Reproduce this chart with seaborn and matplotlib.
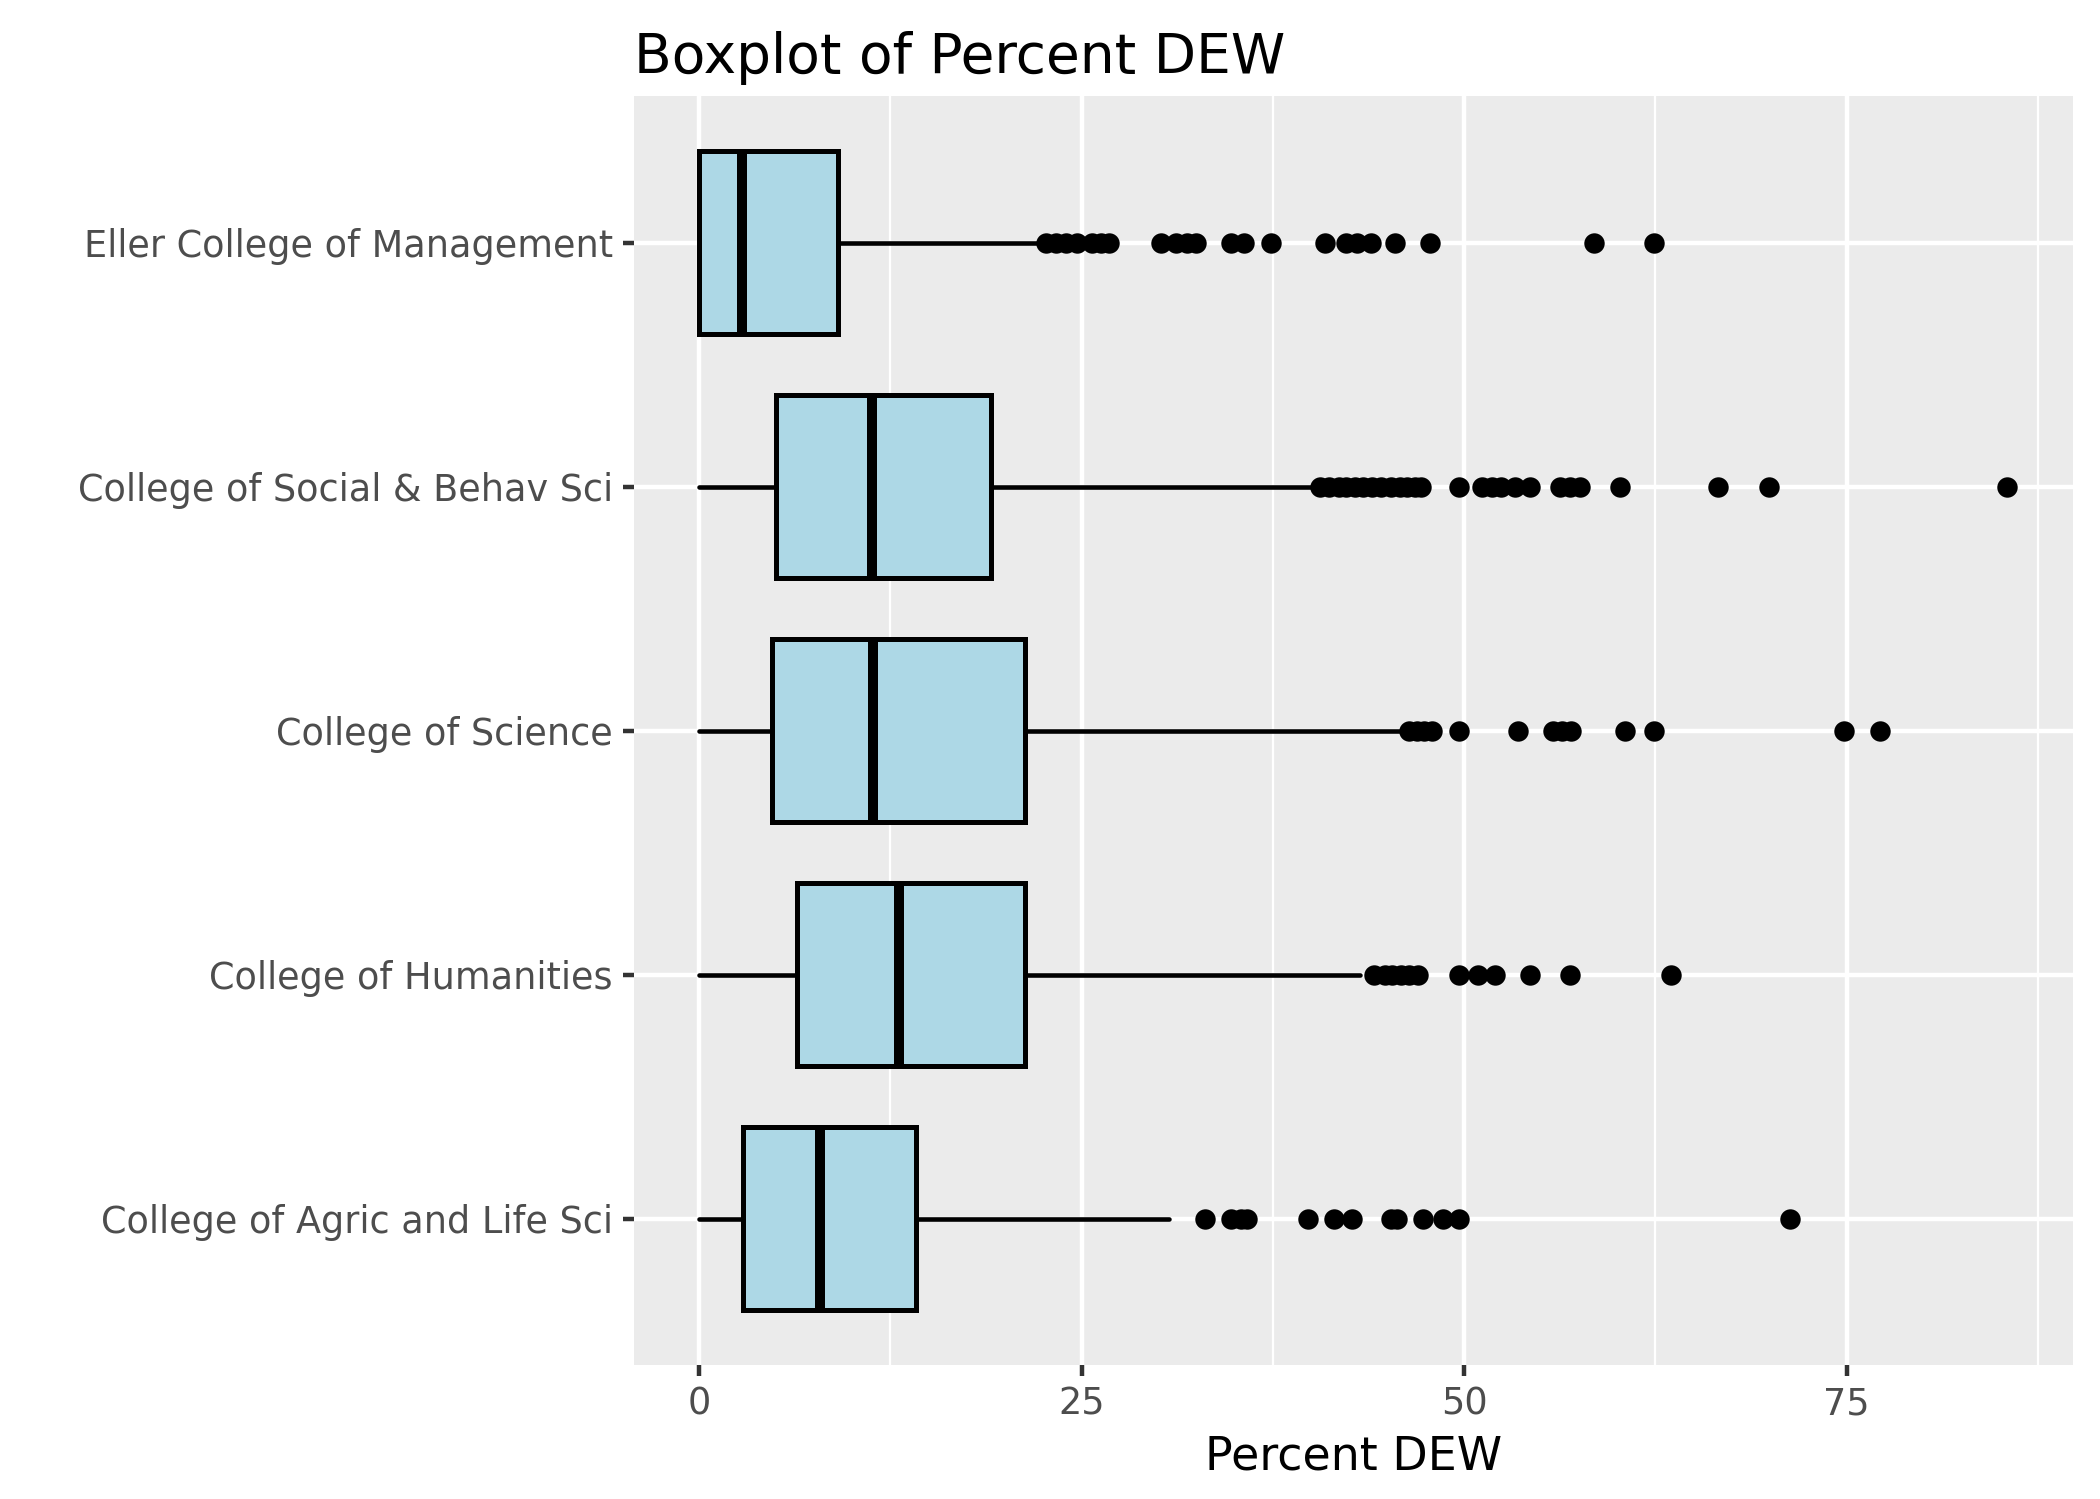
import matplotlib
matplotlib.use("Agg")
import matplotlib.pyplot as plt
import matplotlib.ticker as mticker
import numpy as np
import pandas as pd
import seaborn as sns

# ========= DATA =========
colleges = [
    "College of Agric and Life Sci",
    "College of Humanities",
    "College of Science",
    "College of Social & Behav Sci",
    "Eller College of Management",
]
q1 = [2.9, 6.4, 4.8, 5.05, 0.0]
median = [7.9, 13.1, 11.4, 11.3, 2.8]
q3 = [14.2, 21.3, 21.3, 19.1, 9.06]
whisker_low = [0.0, 0.0, 0.0, 0.0, 0.0]
whisker_high = [30.7, 43.2, 46.2, 40.3, 22.1]

outliers_agric = [33.1, 34.8, 35.4, 35.8, 39.8, 41.5, 42.7, 45.2, 45.6, 47.3, 48.6, 49.7, 71.3]
outliers_hum = [44.1, 44.8, 45.3, 45.9, 46.4, 47.0, 49.7, 50.9, 52.0, 54.3, 56.9, 63.5]
outliers_sci = [46.4, 46.9, 47.4, 47.9, 49.7, 53.5, 55.8, 56.4, 57.0, 60.5, 62.4, 74.8, 77.2]
outliers_soc = [40.6, 41.2, 41.8, 42.3, 42.9, 43.4, 44.0, 44.6, 45.2, 45.8, 46.3, 46.8, 47.2,
                49.7, 51.2, 51.8, 52.4, 53.3, 54.3, 56.3, 56.9, 57.6, 60.2, 66.6, 69.9, 85.5]
outliers_eller = [22.7, 23.3, 24.0, 24.7, 25.7, 26.3, 26.8, 30.2, 31.2, 31.9, 32.5, 34.8, 35.6,
                  37.4, 40.9, 42.3, 43.0, 43.9, 45.5, 47.8, 58.5, 62.4]
outliers = [outliers_agric, outliers_hum, outliers_sci, outliers_soc, outliers_eller]

# ========= TEMA estilo ggplot =========
sns.set_theme(style="darkgrid", rc={
    "axes.facecolor": "#EBEBEB",
    "grid.color": "white",
    "axes.edgecolor": "#EBEBEB",
})
plt.rcParams["font.family"] = ["DejaVu Sans"]

positions = np.arange(1, len(colleges) + 1)
stats = []
for i, c in enumerate(colleges):
    stats.append(dict(label=c, q1=q1[i], med=median[i], q3=q3[i],
                      whislo=whisker_low[i], whishi=whisker_high[i], fliers=[]))

df_out = pd.concat([
    pd.DataFrame({"college": c, "pos": positions[i], "value": outliers[i]})
    for i, c in enumerate(colleges)
], ignore_index=True)

fig = plt.figure(figsize=(7, 1499 / 300), dpi=300)
ax = fig.add_axes([0.3017, 0.0893, 0.987 - 0.3017, 0.9357 - 0.0893])
ax.set_axisbelow(True)

ax.bxp(stats, positions=positions, orientation="horizontal", widths=0.75,
       patch_artist=True, showcaps=False, showfliers=False,
       boxprops=dict(facecolor="lightblue", edgecolor="black", linewidth=1.2),
       medianprops=dict(color="black", linewidth=2.4, solid_capstyle="butt"),
       whiskerprops=dict(color="black", linewidth=1.1))

sns.scatterplot(data=df_out, x="value", y="pos", color="black", s=24,
                linewidth=0, ax=ax, zorder=3, legend=False)

# ========= EJES =========
all_vals = np.concatenate([whisker_low, whisker_high] + [np.array(o) for o in outliers])
lo, hi = all_vals.min(), all_vals.max()
rng = hi - lo
ax.set_xlim(lo - 0.05 * rng, hi + 0.05 * rng)
ax.set_ylim(0.4, len(colleges) + 0.6)

ax.set_yticks(positions, colleges)
ax.xaxis.set_major_locator(mticker.MultipleLocator(25))
ax.xaxis.set_minor_locator(mticker.MultipleLocator(12.5))
ax.grid(which="major", axis="both", color="white", linewidth=1.07)
ax.grid(which="minor", axis="x", color="white", linewidth=0.53)
ax.grid(which="minor", axis="y", visible=False)

ax.tick_params(axis="both", which="major", bottom=True, left=True, length=2.75,
               width=1.07, color="#333333", labelcolor="#4D4D4D", labelsize=8.8, pad=2.2)
ax.tick_params(which="minor", length=0)
for s in ax.spines.values():
    s.set_visible(False)

ax.set_xlabel("Percent DEW", fontsize=11, color="black", labelpad=2.75)
ax.set_ylabel("")
ax.set_title("Boxplot of Percent DEW", loc="left", fontsize=13.2, color="black", pad=5.5)

fig.savefig("out.png", dpi=300)
